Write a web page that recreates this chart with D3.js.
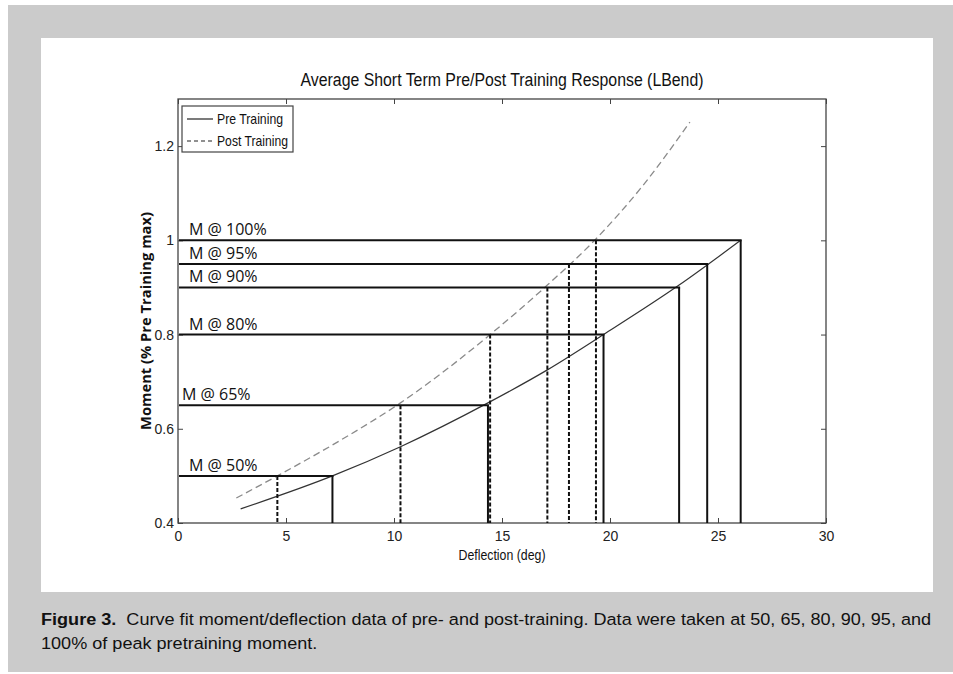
<!DOCTYPE html>
<html lang="en">
<head>
    <meta charset="UTF-8">
    <title>Average Short Term Pre/Post Training Response (LBend)</title>
    <style>
        body { margin: 0; background: #fff; }
        svg { display: block; }
        .tick text { font-family: "Liberation Sans", Arial, sans-serif; font-size: 14px; fill: #222; }
        .tick line { stroke: #444; }
    </style>
    <script src="https://d3js.org/d3.v7.min.js"></script>
</head>
<body>
    <svg width="953" height="674"></svg>

    <script>
        // Кривi (значення зчитанi з рисунка)
        const preDeflection  = [2.9, 7.15, 10.3, 14.35, 17.1, 19.7, 23.2, 26.05];
        const preMoment      = [0.43, 0.5, 0.562, 0.655, 0.725, 0.8, 0.905, 1.0];
        const postDeflection = [2.7, 4.6, 7.5, 10.3, 14.45, 17.1, 19.35, 21.5, 23.7];
        const postMoment     = [0.453, 0.5, 0.575, 0.655, 0.8, 0.905, 1.003, 1.115, 1.251];

        // Рiвнi моменту та вiдповiднi прогини
        const levels      = [0.5, 0.65, 0.8, 0.9, 0.95, 1.0];
        const levelLabels = ["M @ 50%", "M @ 65%", "M @ 80%", "M @ 90%", "M @ 95%", "M @ 100%"];
        const preAtLevel  = [7.15, 14.35, 19.7, 23.2, 24.5, 26.05];
        const postAtLevel = [4.6, 10.3, 14.45, 17.1, 18.1, 19.35];

        const xTicks = [0, 5, 10, 15, 20, 25, 30];
        const yTicks = [0.4, 0.6, 0.8, 1.0, 1.2];
        const legendNames = ["Pre Training", "Post Training"];

        const svg = d3.select("svg");

        // фон: сiра рамка i бiла панель
        svg.append("rect").attr("x", 8).attr("y", 5).attr("width", 945).attr("height", 667).attr("fill", "#cbcbcb");
        svg.append("rect").attr("x", 41).attr("y", 38).attr("width", 892).attr("height", 554).attr("fill", "#fff");

        const x = d3.scaleLinear().domain([0, 30]).range([178, 826]);
        const y = d3.scaleLinear().domain([0.4, 1.3]).range([523, 99]);

        // осi (тiки всередину, як у MATLAB)
        svg.append("g").attr("transform", `translate(0,${y(0.4)})`)
            .call(d3.axisBottom(x).tickValues(xTicks).tickSizeInner(-5).tickSizeOuter(0).tickPadding(8))
            .call(g => g.select(".domain").remove());
        svg.append("g").attr("transform", `translate(0,${y(1.3)})`)
            .call(d3.axisTop(x).tickValues(xTicks).tickSizeInner(-5).tickSizeOuter(0).tickFormat(""))
            .call(g => g.select(".domain").remove());
        svg.append("g").attr("transform", `translate(${x(0)},0)`)
            .call(d3.axisLeft(y).tickValues(yTicks).tickSizeInner(-5).tickSizeOuter(0).tickPadding(4)
                .tickFormat(d3.format("~g")))
            .call(g => g.select(".domain").remove());
        svg.append("g").attr("transform", `translate(${x(30)},0)`)
            .call(d3.axisRight(y).tickValues(yTicks).tickSizeInner(-5).tickSizeOuter(0).tickFormat(""))
            .call(g => g.select(".domain").remove());

        svg.append("rect")
            .attr("x", x(0)).attr("y", y(1.3))
            .attr("width", x(30) - x(0)).attr("height", y(0.4) - y(1.3))
            .attr("fill", "none").attr("stroke", "#444").attr("stroke-width", 1.3);

        // кривi
        const line = d3.line().x(d => x(d[0])).y(d => y(d[1])).curve(d3.curveMonotoneX);
        svg.append("path")
            .datum(d3.zip(postDeflection, postMoment))
            .attr("d", line).attr("fill", "none")
            .attr("stroke", "#8a8a8a").attr("stroke-width", 1.3).attr("stroke-dasharray", "7,4");
        svg.append("path")
            .datum(d3.zip(preDeflection, preMoment))
            .attr("d", line).attr("fill", "none")
            .attr("stroke", "#333").attr("stroke-width", 1.2);

        // горизонтальнi та вертикальнi лiнiї рiвнiв
        const lv = levels.map((m, i) => ({ m, label: levelLabels[i], pre: preAtLevel[i], post: postAtLevel[i] }));

        svg.selectAll("line.post").data(lv).enter().append("line")
            .attr("class", "post")
            .attr("x1", d => x(d.post)).attr("x2", d => x(d.post))
            .attr("y1", d => y(d.m)).attr("y2", y(0.4))
            .attr("stroke", "#111").attr("stroke-width", 2).attr("stroke-dasharray", "4,2");
        svg.selectAll("line.pre").data(lv).enter().append("line")
            .attr("class", "pre")
            .attr("x1", d => x(d.pre)).attr("x2", d => x(d.pre))
            .attr("y1", d => y(d.m)).attr("y2", y(0.4))
            .attr("stroke", "#111").attr("stroke-width", 2);
        svg.selectAll("line.level").data(lv).enter().append("line")
            .attr("class", "level")
            .attr("x1", x(0) + 1).attr("x2", d => x(d.pre) + 1)
            .attr("y1", d => y(d.m)).attr("y2", d => y(d.m))
            .attr("stroke", "#111").attr("stroke-width", 2);
        svg.selectAll("text.level").data(lv).enter().append("text")
            .attr("class", "level")
            .attr("x", d => d.m === 0.65 ? x(0) + 4 : x(0) + 11)
            .attr("y", d => y(d.m) - 5)
            .attr("font-family", "'Open Sans', sans-serif").attr("font-size", 16)
            .attr("fill", "#111")
            .text(d => d.label);

        // легенда
        const leg = svg.append("g");
        leg.append("rect").attr("x", 182).attr("y", 106).attr("width", 111).attr("height", 46)
            .attr("fill", "#fff").attr("stroke", "#444").attr("stroke-width", 1.2);
        legendNames.forEach((name, i) => {
            const ly = 119 + i * 22;
            leg.append("line").attr("x1", 187).attr("x2", 213).attr("y1", ly).attr("y2", ly)
                .attr("stroke", "#222").attr("stroke-width", 1.2)
                .attr("stroke-dasharray", i ? "4,3" : null);
            leg.append("text").attr("x", 217).attr("y", ly + 5)
                .attr("font-family", "'Liberation Sans', Arial, sans-serif").attr("font-size", 15)
                .attr("fill", "#111")
                .attr("textLength", i ? 71 : 66).attr("lengthAdjust", "spacingAndGlyphs")
                .text(name);
        });

        // заголовок i пiдписи осей
        svg.append("text").attr("x", 502).attr("y", 86)
            .attr("text-anchor", "middle")
            .attr("font-family", "'Liberation Sans', Arial, sans-serif").attr("font-size", 18)
            .attr("fill", "#111")
            .attr("textLength", 403).attr("lengthAdjust", "spacingAndGlyphs")
            .text("Average Short Term Pre/Post Training Response (LBend)");
        svg.append("text").attr("x", 502).attr("y", 560)
            .attr("text-anchor", "middle")
            .attr("font-family", "'Liberation Sans', Arial, sans-serif").attr("font-size", 15)
            .attr("fill", "#111")
            .attr("textLength", 87).attr("lengthAdjust", "spacingAndGlyphs")
            .text("Deflection (deg)");
        svg.append("text")
            .attr("transform", "translate(151,321) rotate(-90)")
            .attr("text-anchor", "middle")
            .attr("font-family", "'Open Sans', sans-serif").attr("font-size", 13.5).attr("font-weight", "bold")
            .attr("fill", "#111")
            .attr("textLength", 218).attr("lengthAdjust", "spacingAndGlyphs")
            .text("Moment (% Pre Training max)");

        // пiдпис рисунка (вузький шрифт: стискаємо по горизонталi)
        const cap = svg.append("g")
            .attr("font-family", "'Liberation Sans', Arial, sans-serif").attr("font-size", 16.5).attr("fill", "#111");
        const cap1 = cap.append("text").attr("x", 0).attr("y", 0);
        cap1.append("tspan").attr("font-weight", "bold").text("Figure 3.");
        cap1.append("tspan").text("\u00a0 Curve fit moment/deflection data of pre- and post-training. Data were taken at 50, 65, 80, 90, 95, and");
        const k = 891 / cap1.node().getComputedTextLength();
        cap1.attr("transform", `translate(41,625) scale(${k},1)`);
        cap.append("text").attr("transform", `translate(41,649) scale(${k},1)`)
            .text("100% of peak pretraining moment.");
    </script>
</body>
</html>
